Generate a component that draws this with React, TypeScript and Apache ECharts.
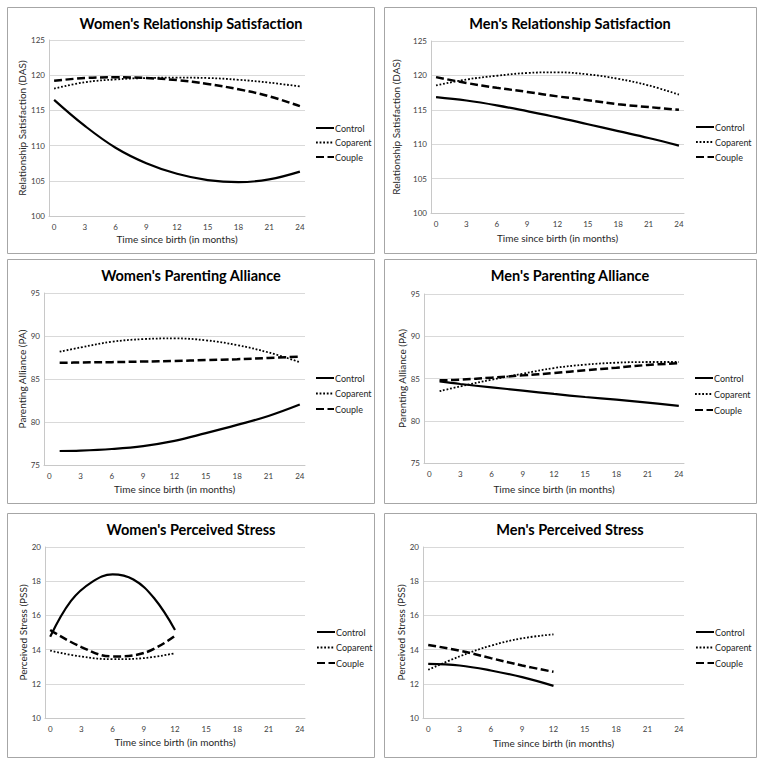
import React, { useEffect, useRef } from "react";
import * as echarts from "echarts";

// ---------- data ----------
const months = ["0","1","2","3","4","5","6","7","8","9","10","11","12","13","14","15","16","17","18","19","20","21","22","23","24"];
const seriesNames = ["Control", "Coparent", "Couple"];

const titles = [
  "Women's Relationship Satisfaction",
  "Men's Relationship Satisfaction",
  "Women's Parenting Alliance",
  "Men's Parenting Alliance",
  "Women's Perceived Stress",
  "Men's Perceived Stress",
];
const yNames = [
  "Relationship Satisfaction (DAS)",
  "Relationship Satisfaction (DAS)",
  "Parenting Alliance (PA)",
  "Parenting Alliance (PA)",
  "Perceived Stress (PSS)",
  "Perceived Stress (PSS)",
];
const xName = "Time since birth (in months)";
const yMins = [100, 100, 75, 75, 10, 10];
const yMaxs = [125, 125, 95, 95, 20, 20];
const yIntervals = [5, 5, 5, 5, 2, 2];

// Women's relationship satisfaction
const wrsX = [0, 3, 6, 9, 12, 15, 18, 21, 24];
const wrsControl = [116.5, 112.8, 109.7, 107.5, 106.0, 105.1, 104.8, 105.2, 106.3];
const wrsCoparent = [118.1, 119.0, 119.4, 119.6, 119.65, 119.6, 119.35, 118.95, 118.4];
const wrsCouple = [119.2, 119.6, 119.7, 119.6, 119.3, 118.75, 118.0, 117.0, 115.6];

// Men's relationship satisfaction
const mrsX = [0, 3, 6, 9, 12, 15, 18, 21, 24];
const mrsControl = [116.85, 116.35, 115.65, 114.8, 113.9, 112.9, 111.9, 110.9, 109.8];
const mrsCoparent = [118.55, 119.4, 119.95, 120.35, 120.45, 120.15, 119.5, 118.55, 117.2];
const mrsCouple = [119.75, 118.9, 118.2, 117.6, 116.95, 116.4, 115.8, 115.4, 115.0];

// Women's parenting alliance
const wpaX = [1, 3, 6, 9, 12, 15, 18, 21, 24];
const wpaControl = [76.63, 76.67, 76.86, 77.2, 77.8, 78.7, 79.66, 80.7, 82.03];
const wpaCoparent = [88.17, 88.67, 89.33, 89.64, 89.72, 89.5, 88.94, 88.09, 86.96];
const wpaCouple = [86.88, 86.92, 86.96, 87.03, 87.1, 87.2, 87.3, 87.45, 87.6];

// Men's parenting alliance
const mpaX = [1, 3, 6, 9, 12, 15, 18, 21, 24];
const mpaControl = [84.66, 84.35, 83.95, 83.56, 83.17, 82.81, 82.5, 82.14, 81.75];
const mpaCoparent = [83.5, 84.07, 84.86, 85.57, 86.24, 86.64, 86.87, 86.95, 86.95];
const mpaCouple = [84.78, 84.86, 85.1, 85.37, 85.65, 85.97, 86.28, 86.6, 86.8];

// Women's perceived stress
const wpsControlX = [0, 2, 4, 6, 8, 10, 12];
const wpsControl = [14.75, 16.85, 17.95, 18.4, 18.1, 17.0, 15.15];
const wpsX = [0, 3, 6, 9, 12];
const wpsCoparent = [13.94, 13.59, 13.44, 13.5, 13.79];
const wpsCouple = [15.15, 14.15, 13.6, 13.8, 14.8];

// Men's perceived stress
const mpsX = [0, 3, 6, 9, 12];
const mpsControl = [13.17, 13.07, 12.78, 12.39, 11.88];
const mpsCoparent = [12.82, 13.6, 14.23, 14.66, 14.89];
const mpsCouple = [14.27, 13.94, 13.5, 13.07, 12.7];

const panelData = [
  [[wrsX, wrsControl], [wrsX, wrsCoparent], [wrsX, wrsCouple]],
  [[mrsX, mrsControl], [mrsX, mrsCoparent], [mrsX, mrsCouple]],
  [[wpaX, wpaControl], [wpaX, wpaCoparent], [wpaX, wpaCouple]],
  [[mpaX, mpaControl], [mpaX, mpaCoparent], [mpaX, mpaCouple]],
  [[wpsControlX, wpsControl], [wpsX, wpsCoparent], [wpsX, wpsCouple]],
  [[mpsX, mpsControl], [mpsX, mpsCoparent], [mpsX, mpsCouple]],
];

// ---------- layout ----------
const FONT = "Lato";
const borders = [
  [7, 7, 374, 253],
  [384, 7, 756, 253],
  [7, 259, 374, 503],
  [384, 259, 756, 503],
  [7, 513, 374, 757],
  [384, 513, 756, 757],
];
const grids = [
  { left: 49, top: 40, width: 256, height: 176 },
  { left: 431, top: 41, width: 253, height: 172 },
  { left: 44, top: 293, width: 261, height: 172 },
  { left: 424, top: 294, width: 260, height: 169 },
  { left: 45, top: 547, width: 260, height: 171 },
  { left: 423, top: 547, width: 261, height: 171 },
];
const titlePos = [
  [191, 23], [570, 23], [191, 275], [570, 275], [191, 529], [570, 529],
];
const legendPos = [
  [315, 123, 4.5], [695, 122, 5], [315, 373, 5.5], [694, 373, 6], [316, 627, 5.5], [695, 627, 5.5],
];
const yNameGaps = [21, 30, 16, 16, 17, 16];
const xNameGaps = [18, 20, 19, 21, 19, 20];

const lineStyles: any[] = [
  { color: "#000", width: 2.2, type: "solid" },
  { color: "#000", width: 1.8, type: [1.8, 1.8] },
  { color: "#000", width: 2.5, type: [8, 3.5] },
];

export default function App() {
  const ref = useRef<HTMLDivElement>(null);
  useEffect(() => {
    if (!ref.current) return;
    const chart = echarts.init(ref.current, undefined, { renderer: "svg" });

    const graphic: any[] = [];
    borders.forEach(([x1, y1, x2, y2]) => {
      graphic.push({
        type: "rect",
        shape: { x: x1 + 0.5, y: y1 + 0.5, width: x2 - x1, height: y2 - y1 },
        style: { fill: "none", stroke: "#a6a6a6", lineWidth: 1 },
        silent: true,
      });
    });
    titles.forEach((t, i) => {
      graphic.push({
        type: "text",
        x: titlePos[i][0],
        y: titlePos[i][1],
        style: {
          text: t,
          align: "center",
          verticalAlign: "middle",
          fontFamily: FONT,
          fontWeight: "bold",
          fontSize: 14.5,
          fill: "#000",
        },
      });
    });

    const series: any[] = [];
    panelData.forEach((panel, p) => {
      panel.forEach(([xs, vals], s) => {
        series.push({
          type: "line",
          name: seriesNames[s],
          xAxisIndex: p,
          yAxisIndex: p,
          data: (xs as number[]).map((x, k) => [x, (vals as number[])[k]]),
          smooth: 0.4,
          symbol: "none",
          color: "#000",
          itemStyle: { color: "#000" },
          lineStyle: lineStyles[s],
          z: 3 - s,
        });
      });
    });

    const option: any = {
      animation: false,
      backgroundColor: "#fff",
      textStyle: { fontFamily: FONT },
      graphic,
      grid: grids.map((g) => ({ ...g, containLabel: false })),
      legend: legendPos.map(([l, t, gap]) => ({
        orient: "vertical",
        left: l,
        top: t,
        itemWidth: 18,
        itemHeight: 10,
        itemGap: gap,
        padding: 0,
        data: seriesNames,
        selectedMode: false,
        itemStyle: { color: "rgba(0,0,0,0)", borderWidth: 0, opacity: 0 },
        textStyle: { fontFamily: FONT, fontSize: 9, color: "#262626", lineHeight: 10, padding: [0, 0, 0, -4] },
      })),
      xAxis: grids.map((_, i) => ({
        type: "category",
        gridIndex: i,
        data: months,
        boundaryGap: true,
        name: xName,
        nameLocation: "middle",
        nameGap: xNameGaps[i],
        nameTextStyle: { fontFamily: FONT, fontSize: 10, color: "#262626" },
        axisLine: { show: true, lineStyle: { color: "#c8c8c8", width: 1 } },
        axisTick: { show: false },
        axisLabel: { interval: 2, fontFamily: FONT, fontSize: 8, color: "#404040", margin: 7 },
        splitLine: { show: false },
      })),
      yAxis: grids.map((_, i) => ({
        type: "value",
        gridIndex: i,
        min: yMins[i],
        max: yMaxs[i],
        interval: yIntervals[i],
        name: yNames[i],
        nameLocation: "middle",
        nameRotate: 90,
        nameGap: yNameGaps[i],
        nameTextStyle: { fontFamily: FONT, fontSize: 10, color: "#262626" },
        axisLine: { show: true, lineStyle: { color: "#c8c8c8", width: 1 } },
        axisTick: { show: false },
        axisLabel: { fontFamily: FONT, fontSize: 8, color: "#404040", margin: 4 },
        splitLine: { show: true, lineStyle: { color: "#d9d9d9", width: 1 } },
      })),
      series,
    };
    chart.setOption(option);
    return () => chart.dispose();
  }, []);
  return (
    <div
      ref={ref}
      style={{ position: "absolute", left: 0, top: 0, width: 762, height: 765, background: "#fff" }}
    />
  );
}
